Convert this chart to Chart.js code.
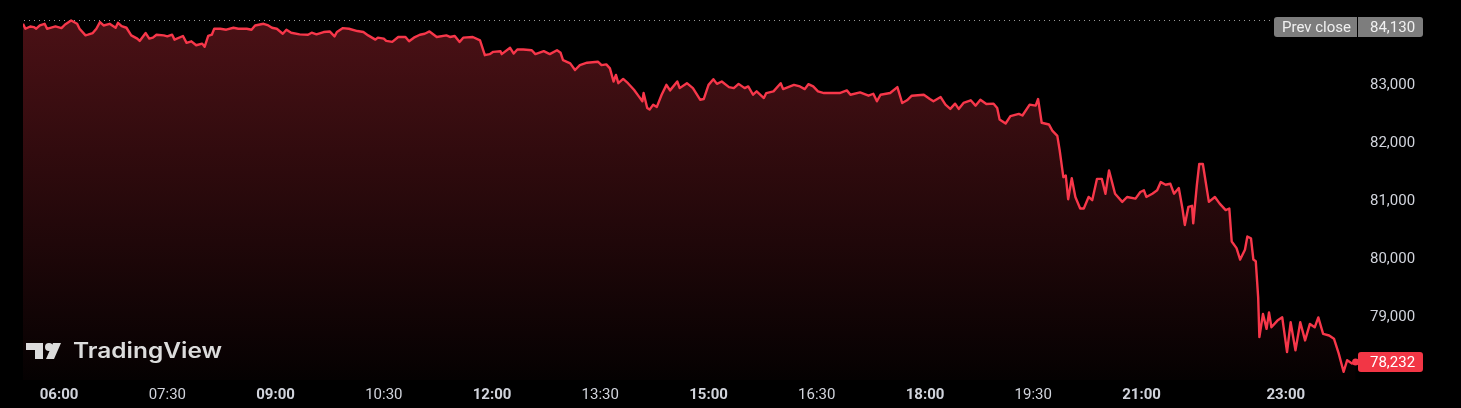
<!DOCTYPE html>
<html>
<head>
<meta charset="utf-8">
<title>Price chart</title>
<script src="https://cdn.jsdelivr.net/npm/chart.js@4.4.1/dist/chart.umd.min.js"></script>
<style>
    html, body { margin: 0; padding: 0; background: #000; }
    #wrap { width: 1461px; height: 408px; position: relative; }
</style>
</head>
<body>
<div id="wrap"><canvas id="priceChart"></canvas></div>
<script>
// minutes since midnight for each sample
const minutes = [
    330, 332, 336, 339, 341, 344, 348, 350, 352, 357,
    362, 365, 370, 375, 377, 382, 384, 388, 391, 394,
    397, 402, 407, 409, 412, 416, 420, 425, 427, 432,
    435, 438, 441, 447, 450, 454, 456, 463, 466, 470,
    474, 479, 481, 484, 487, 489, 494, 499, 505, 509,
    516, 520, 523, 530, 534, 537, 541, 546, 549, 553,
    560, 567, 570, 574, 580, 585, 589, 591, 596, 601,
    608, 613, 617, 623, 625, 630, 632, 637, 642, 648,
    651, 655, 660, 664, 668, 674, 682, 685, 689, 693,
    696, 704, 710, 714, 718, 721, 727, 728, 735, 738,
    741, 746, 753, 756, 763, 768, 774, 777, 779, 785,
    789, 793, 799, 808, 811, 815, 818, 821, 823, 825,
    829, 833, 838, 842, 845, 846, 849, 851, 854, 857,
    861, 865, 868, 874, 876, 882, 887, 893, 896, 900,
    904, 907, 911, 917, 921, 925, 930, 933, 937, 940,
    946, 948, 954, 960, 962, 971, 976, 980, 983, 987,
    991, 996, 1004, 1009, 1015, 1018, 1026, 1033, 1037, 1040,
    1043, 1051, 1057, 1061, 1065, 1069, 1079, 1084, 1087, 1093,
    1097, 1101, 1105, 1108, 1112, 1118, 1122, 1126, 1131, 1137,
    1140, 1142, 1147, 1151, 1158, 1161, 1167, 1172, 1174, 1177,
    1183, 1186, 1190, 1192, 1195, 1197, 1199, 1202, 1205, 1209,
    1212, 1216, 1219, 1223, 1227, 1230, 1233, 1238, 1244, 1248,
    1255, 1259, 1262, 1264, 1269, 1273, 1276, 1280, 1284, 1287,
    1291, 1294, 1296, 1299, 1302, 1303, 1306, 1308, 1311, 1316,
    1321, 1325, 1330, 1333, 1335, 1339, 1342, 1346, 1348, 1351,
    1353, 1355, 1357, 1358, 1361, 1364, 1366, 1368, 1373, 1377,
    1381, 1384, 1388, 1392, 1396, 1400, 1404, 1407, 1411, 1416,
    1420, 1424, 1428, 1431, 1435, 1438
];

const prices = [
    84057, 83972, 84011, 84000, 83972, 84028, 84057, 83972, 83983, 84011,
    83983, 84045, 84113, 84057, 83972, 83857, 83869, 83898, 83972, 84086,
    84028, 84057, 83989, 84074, 84018, 83989, 83857, 83801, 83762, 83898,
    83801, 83818, 83869, 83857, 83840, 83869, 83784, 83847, 83728, 83755,
    83687, 83716, 83660, 83847, 83869, 83972, 83972, 83955, 83989, 83972,
    83972, 83955, 84028, 84057, 84028, 83989, 83972, 83886, 83955, 83903,
    83874, 83869, 83903, 83874, 83915, 83925, 83840, 83915, 83983, 83972,
    83932, 83915, 83857, 83784, 83818, 83801, 83762, 83745, 83830, 83830,
    83755, 83818, 83869, 83886, 83925, 83830, 83857, 83830, 83847, 83745,
    83818, 83830, 83772, 83516, 83534, 83574, 83585, 83534, 83643, 83545,
    83614, 83614, 83602, 83534, 83585, 83534, 83602, 83557, 83431, 83375,
    83261, 83346, 83387, 83404, 83346, 83358, 83290, 83063, 83176, 83034,
    83107, 83034, 82920, 82807, 82722, 82864, 82608, 82579, 82664, 82625,
    82835, 83005, 82910, 83063, 82949, 83034, 82949, 82749, 82761, 83005,
    83102, 83022, 83063, 82966, 82949, 83022, 82949, 82978, 82835, 82893,
    82778, 82864, 82893, 83034, 82932, 83005, 82978, 82932, 83017, 82978,
    82893, 82864, 82864, 82864, 82910, 82835, 82876, 82818, 82852, 82722,
    82835, 82864, 82966, 82693, 82739, 82818, 82835, 82761, 82722, 82795,
    82664, 82591, 82681, 82591, 82693, 82739, 82647, 82749, 82676, 82681,
    82608, 82409, 82340, 82467, 82506, 82477, 82664, 82647, 82761, 82352,
    82323, 82211, 82126, 81870, 81415, 81444, 81035, 81398, 81074, 80875,
    80875, 81074, 81018, 81386, 81386, 81130, 81529, 81130, 80989, 81074,
    81045, 81159, 81188, 81074, 81130, 81188, 81330, 81284, 81301, 81130,
    81227, 80875, 80592, 80904, 80921, 80619, 81273, 81642, 81642, 80989,
    81074, 80960, 80847, 80875, 80307, 80193, 79995, 80166, 80392, 80363,
    79995, 79966, 79341, 78659, 79058, 78802, 79085, 78829, 78944, 79000,
    78403, 78915, 78432, 78915, 78603, 78887, 78829, 79000, 78717, 78688,
    78632, 78376, 78062, 78262, 78206, 78232
];

const prevClose = 84130;
const priceTicks = [79000, 80000, 81000, 82000, 83000];
const timeLabels = ['06:00', '07:30', '09:00', '10:30', '12:00', '13:30', '15:00', '16:30', '18:00', '19:30', '21:00', '23:00'];
const boldTimeLabels = ['06:00', '09:00', '12:00', '15:00', '18:00', '21:00', '23:00'];
const timeRange = ['05:30', '24:00'];
const priceRange = [77921, 84398];

const LINE_RED = '#f7374a';
const TEXT = '#d1d4dc';
const FONT = 'Roboto, "Open Sans", sans-serif';

const toMinutes = s => {
    const [h, m] = s.split(':').map(Number);
    return h * 60 + m;
};
const fmt = v => Math.round(v).toLocaleString('en-US');

function drawLogo(ctx, ox, oy, color) {
    ctx.fillStyle = color;
    ctx.fillRect(ox, oy, 17, 7);
    ctx.fillRect(ox + 9, oy, 8, 16);
    ctx.beginPath();
    ctx.arc(ox + 23, oy + 4, 4, 0, Math.PI * 2);
    ctx.fill();
    ctx.beginPath();
    ctx.moveTo(ox + 27, oy);
    ctx.lineTo(ox + 35, oy);
    ctx.lineTo(ox + 28, oy + 16);
    ctx.lineTo(ox + 20, oy + 16);
    ctx.closePath();
    ctx.fill();
}

const overlay = {
    id: 'overlay',
    beforeDatasetsDraw(chart) {
        const { ctx, chartArea, scales: { y } } = chart;
        const py = Math.round(y.getPixelForValue(prevClose));
        ctx.save();
        ctx.fillStyle = '#9a9a9a';
        for (let x = chartArea.left + 1; x < chartArea.right - 86; x += 5) {
            ctx.fillRect(x, py, 1, 1);
        }
        ctx.restore();
    },
    afterDraw(chart) {
        const { ctx, chartArea, scales: { y } } = chart;
        ctx.save();
        ctx.font = `15px ${FONT}`;
        ctx.textBaseline = 'middle';
        ctx.textAlign = 'left';

        // previous close label
        const pcY = Math.max(y.getPixelForValue(prevClose), chartArea.top + 23);
        ctx.fillStyle = '#7d7d7d';
        ctx.beginPath();
        ctx.roundRect(chartArea.right - 84, pcY - 10, 83, 20, [3, 0, 0, 3]);
        ctx.fill();
        ctx.beginPath();
        ctx.roundRect(chartArea.right, pcY - 10, 65, 20, [0, 3, 3, 0]);
        ctx.fill();
        ctx.fillStyle = '#f0f0f0';
        ctx.fillText('Prev close', chartArea.right - 76, pcY + 1);
        ctx.fillText(fmt(prevClose), chartArea.right + 12, pcY + 1);

        // last price label
        const last = prices[prices.length - 1];
        const lY = y.getPixelForValue(last);
        ctx.fillStyle = '#f23645';
        ctx.beginPath();
        ctx.roundRect(chartArea.right, lY - 10, 65, 20, 3);
        ctx.fill();
        ctx.fillStyle = '#ffffff';
        ctx.fillText(fmt(last), chartArea.right + 12, lY + 1);

        // watermark
        const base = chartArea.bottom - 22;
        drawLogo(ctx, chartArea.left + 3, base - 15, '#dcdcdc');
        ctx.font = `600 21px Inter, ${FONT}`;
        ctx.textBaseline = 'alphabetic';
        const word = 'TradingView';
        const w = ctx.measureText(word).width;
        ctx.translate(chartArea.left + 50, base);
        ctx.scale(149 / w, 1);
        ctx.fillStyle = '#dcdcdc';
        ctx.fillText(word, 0, 0);
        ctx.restore();
    }
};

const ctx = document.getElementById('priceChart').getContext('2d');

new Chart(ctx, {
    type: 'line',
    data: {
        datasets: [{
            data: minutes.map((m, i) => ({ x: m, y: prices[i] })),
            borderColor: LINE_RED,
            borderWidth: 2.4,
            borderJoinStyle: 'round',
            tension: 0,
            fill: 'start',
            backgroundColor: c => {
                const area = c.chart.chartArea;
                if (!area) return 'rgba(242,54,69,0.2)';
                const g = c.chart.ctx.createLinearGradient(0, area.top, 0, area.bottom);
                g.addColorStop(0, 'rgba(242,54,69,0.32)');
                g.addColorStop(1, 'rgba(242,54,69,0.02)');
                return g;
            },
            pointRadius: c => (c.dataIndex === prices.length - 1 ? 3.5 : 0),
            pointBackgroundColor: LINE_RED,
            pointBorderWidth: 0,
        }],
    },
    options: {
        responsive: true,
        maintainAspectRatio: false,
        animation: false,
        layout: { padding: { left: 23, top: 0, right: 0, bottom: 0 } },
        plugins: {
            legend: { display: false },
            tooltip: { enabled: false },
        },
        scales: {
            x: {
                type: 'linear',
                min: toMinutes(timeRange[0]),
                max: toMinutes(timeRange[1]),
                grid: { display: false, drawTicks: false },
                border: { display: false },
                afterBuildTicks: scale => {
                    scale.ticks = timeLabels.map(l => ({ value: toMinutes(l), label: l }));
                },
                afterFit: scale => {
                    scale.height = 28;
                    scale.paddingLeft = 0;
                    scale.paddingRight = 0;
                },
                ticks: {
                    autoSkip: false,
                    maxRotation: 0,
                    padding: 6,
                    color: TEXT,
                    callback: (v, i) => timeLabels[i],
                    font: c => ({
                        family: FONT,
                        size: 15,
                        weight: c.tick && boldTimeLabels.includes(c.tick.label) ? 'bold' : 'normal',
                    }),
                },
            },
            y: {
                position: 'right',
                min: priceRange[0],
                max: priceRange[1],
                grid: { display: false, drawTicks: false },
                border: { display: false },
                afterBuildTicks: scale => {
                    scale.ticks = priceTicks.map(v => ({ value: v }));
                },
                afterFit: scale => {
                    scale.width = 103;
                    scale.paddingTop = 0;
                    scale.paddingBottom = 0;
                },
                ticks: {
                    padding: 12,
                    color: TEXT,
                    font: { family: FONT, size: 15 },
                    callback: v => fmt(v),
                },
            },
        },
    },
    plugins: [overlay],
});
</script>
</body>
</html>
